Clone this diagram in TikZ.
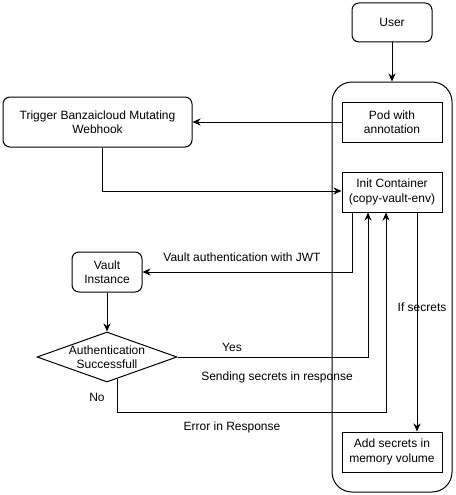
\documentclass[tikz,border=0pt]{standalone}
\usepackage{fontspec}
\setmainfont{Liberation Sans}
\usetikzlibrary{shapes.geometric,arrows.meta,calc}
\begin{document}
\begin{tikzpicture}[x=1pt,y=-1pt, font=\fontsize{12}{14.4}\selectfont,
  box/.style={draw, line width=1pt, inner sep=0pt, align=center},
  rbox/.style={box, rounded corners=7pt},
  arr/.style={draw, line width=1pt, -{Stealth[length=8pt,width=7pt,inset=2.5pt]}},
  lbl/.style={inner sep=0pt, anchor=center, align=center}]
\useasboundingbox (0,0) rectangle (455,495);

\node[box, rounded corners=20pt, minimum width=120pt, minimum height=410pt] (cont) at (392,287) {};
\node[rbox, minimum width=80pt, minimum height=39pt] (user) at (392,22.5) {User};
\node[box, minimum width=100pt, minimum height=40pt] (pod) at (392,122) {Pod with\\annotation};
\node[rbox, minimum width=189pt, minimum height=50pt] (trig) at (97.5,122) {Trigger Banzaicloud Mutating\\Webhook};
\node[box, minimum width=100pt, minimum height=40pt] (init) at (392,192) {Init Container\\(copy-vault-env)};
\node[rbox, minimum width=70pt, minimum height=40pt] (vault) at (107,272) {Vault\\Instance};
\node[diamond, draw, line width=1pt, minimum width=140pt, minimum height=50pt, inner sep=0pt] (dia) at (107,357) {};
\node[lbl] (diatext) at (dia.center) {Authentication\\Successfull};
\node[box, minimum width=100pt, minimum height=40pt] (add) at (392,452) {Add secrets in\\memory volume};

\coordinate (noS) at (117,379);

\draw[arr] (user) -- (cont.north);
\draw[arr] (pod) -- (trig);
\draw[arr] ($(trig.south)+(4.5,0)$) |- ($(init.west)+(0,-1)$);
\draw[arr] ([xshift=-40pt]init.south) |- (vault.east);
\draw[arr] (vault) -- (dia.north);
\draw[arr] (dia.east) -| ([xshift=-24pt]init.south);
\draw[arr] (noS) |- ($(init.south)+(-6,200)$) -- ([xshift=-6pt]init.south);
\draw[arr] ([xshift=25pt]init.south) -- ([xshift=25pt]add.north);

\node[lbl] (l1) at (242,257) {Vault authentication with JWT};
\node[lbl] (l2) at (232,347) {Yes};
\node[lbl] (l3) at (277,377) {Sending secrets in response};
\node[lbl] (l4) at (97,397) {No};
\node[lbl] (l5) at (232,427) {Error in Response};
\node[lbl] (l6) at (422,307) {If secrets};
\end{tikzpicture}
\end{document}
